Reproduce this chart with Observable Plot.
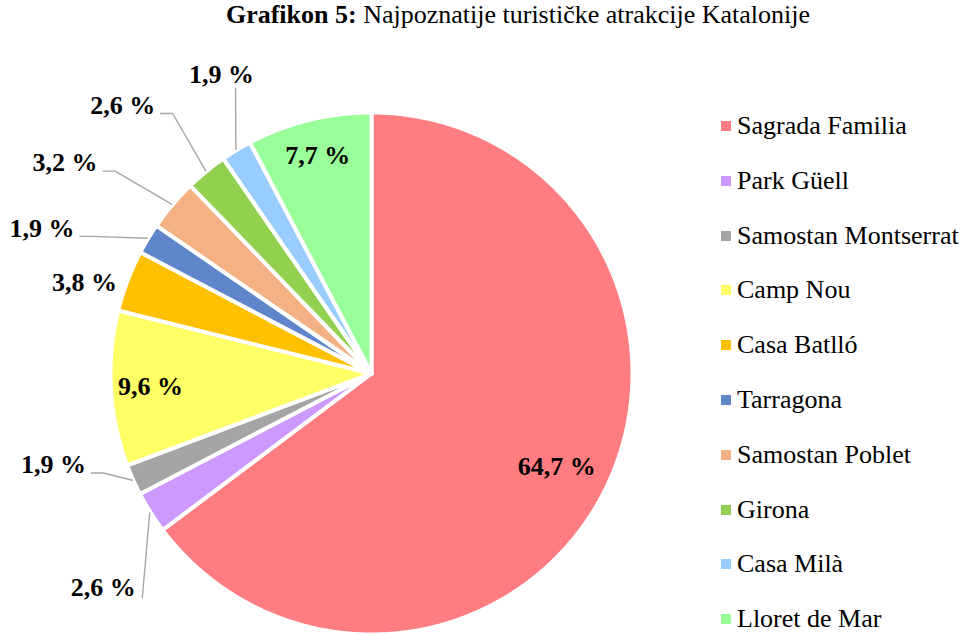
<!DOCTYPE html>
<html>
<head>
<meta charset="utf-8">
<script src="https://cdn.jsdelivr.net/npm/d3@7"></script>
<script src="https://cdn.jsdelivr.net/npm/@observablehq/plot@0.6"></script>
<style>
  html, body { margin: 0; padding: 0; background: #fff; overflow: hidden; }
  #wrap { position: relative; width: 968px; height: 634px; font-family: "Liberation Serif", "Tinos", "Times New Roman", "DejaVu Serif", serif; }
  #chart { position: absolute; left: 0; top: 0; }
  #title { position: absolute; left: 518px; top: 2px; transform: translateX(-50%); white-space: nowrap;
           font-size: 26px; line-height: 26px; color: #000; z-index: 2; }
  #legend { position: absolute; left: 721px; top: 98.6px; z-index: 2; }
  .item { display: flex; align-items: center; height: 54.8px; font-size: 26px; line-height: 26px; color: #000; white-space: nowrap; }
  .sw { width: 10px; height: 10px; margin-right: 6px; flex: none; }
</style>
</head>
<body>
<div id="wrap">
  <div id="title"><b>Grafikon 5:</b> Najpoznatije turističke atrakcije Katalonije</div>
  <div id="chart"></div>
  <div id="legend"></div>
</div>
<script>
// ---- data ----
const categories = ["Sagrada Familia", "Park Güell", "Samostan Montserrat", "Camp Nou", "Casa Batlló",
                    "Tarragona", "Samostan Poblet", "Girona", "Casa Milà", "Lloret de Mar"];
const shares = [64.7, 2.6, 1.9, 9.6, 3.8, 1.9, 3.2, 2.6, 1.9, 7.7];
const colors = ["#FF7C80", "#CC99FF", "#A5A5A5", "#FFFF66", "#FFC000",
                "#5F85CA", "#F4B183", "#92D050", "#99CCFF", "#99FF99"];

// ---- layout (label placement relative to each slice's mid-angle) ----
const labelRadius = [0.80, 1.324, 1.278, 0.855, 1.162, 1.39, 1.435, 1.412, 1.29, 0.866];
const labelShift  = [0, -6.4, 8, 0, -3.3, -7.3, -5.8, -3.6, 4.5, 0];
const leaderKind  = [null, "c", "h", null, null, "h", "h", "h", "v", null];

const W = 968, H = 634;
const cx = 371, cy = 373, R = 261, Rv = 259;
const FONT = "Liberation Serif, Tinos, Times New Roman, DejaVu Serif, serif";

const fmt = v => v.toFixed(1).replace(".", ",") + " %";
const arcs = d3.pie().sort(null).value(d => d)(shares);
const pt = (a, r) => ({x: cx + r * Math.sin(a), y: cy - r * Math.cos(a)});

const marks = [];
arcs.forEach((arc, i) => {
  const pts = [{x: cx, y: cy}];
  const n = Math.max(2, Math.ceil((arc.endAngle - arc.startAngle) / 0.01));
  for (let k = 0; k <= n; k++) {
    const a = arc.startAngle + (arc.endAngle - arc.startAngle) * k / n;
    pts.push(pt(a, R));
  }
  marks.push(Plot.line(pts, {x: "x", y: "y", curve: "linear-closed", fill: colors[i],
    stroke: "white", strokeWidth: 4, strokeLinejoin: "round"}));
});

const labelData = arcs.map((arc, i) => {
  const mid = (arc.startAngle + arc.endAngle) / 2;
  const a = mid + labelShift[i] * Math.PI / 180;
  const p = pt(a, labelRadius[i] * Rv);
  return {x: p.x, y: p.y, text: fmt(shares[i]), mid, i};
});

const leaderPts = [];
labelData.forEach(d => {
  const kind = leaderKind[d.i];
  if (!kind) return;
  const s = pt(d.mid, Rv + 3);
  if (kind === "h") {
    const e = {x: d.x + 38, y: d.y + 8};
    leaderPts.push({id: d.i, ...e}, {id: d.i, x: e.x + 12, y: e.y}, {id: d.i, ...s});
  } else if (kind === "v") {
    const e = {x: d.x + 14, y: d.y + 13.5};
    leaderPts.push({id: d.i, ...e}, {id: d.i, ...s});
  } else if (kind === "c") {
    const e = {x: d.x + 39, y: d.y + 10};
    leaderPts.push({id: d.i, ...e}, {id: d.i, ...s});
  }
});

marks.push(Plot.line(leaderPts, {x: "x", y: "y", z: "id", stroke: "#A6A6A6", strokeWidth: 1.4}));
marks.push(Plot.text(labelData, {x: "x", y: "y", text: "text", fontSize: 26, fontWeight: "bold",
  fill: "black", fontFamily: FONT}));

const plot = Plot.plot({
  width: W, height: H, margin: 0,
  x: {domain: [0, W], range: [0, W], axis: null},
  y: {domain: [0, H], range: [0, H], axis: null},
  style: {background: "transparent", fontFamily: FONT},
  marks
});
document.getElementById("chart").appendChild(plot);

const legend = document.getElementById("legend");
categories.forEach((c, i) => {
  const it = document.createElement("div");
  it.className = "item";
  const sw = document.createElement("span");
  sw.className = "sw";
  sw.style.background = colors[i];
  it.appendChild(sw);
  it.appendChild(document.createTextNode(c));
  legend.appendChild(it);
});
</script>
</body>
</html>
